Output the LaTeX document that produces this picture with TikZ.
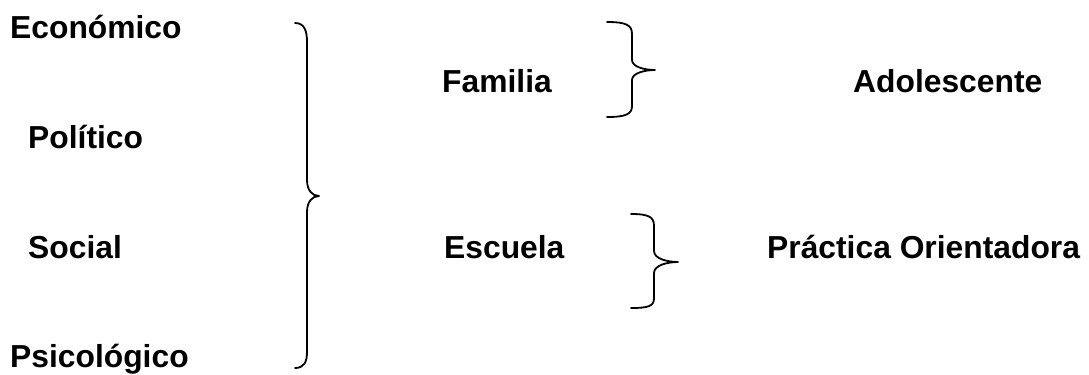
\documentclass[tikz,border=0pt]{standalone}
\usepackage{fontspec}
\setmainfont{Liberation Sans}
\begin{document}
\begin{tikzpicture}[x=1bp,y=-1bp,
  lbl/.style={anchor=base west,inner sep=0pt,font=\fontsize{31.8bp}{32bp}\selectfont\bfseries},
  brace/.style={line width=1.8bp,line cap=round,line join=round}]
\useasboundingbox (0,0) rectangle (1089,374);
\node[lbl] (eco) at (10,38) {Económico};
\node[lbl] (pol) at (28,148) {Político};
\node[lbl] (soc) at (28,258) {Social};
\node[lbl] (psi) at (10,367) {Psicológico};
\node[lbl] (fam) at (442,92) {Familia};
\node[lbl] (ado) at (853,92) {Adolescente};
\node[lbl] (esc) at (444,258) {Escuela};
\node[lbl] (pra) at (767,258) {Práctica Orientadora};
% big brace
\draw[brace] (295,23) .. controls (304,23) and (307,30) .. (307,42) -- (307,180)
  .. controls (307,190) and (312,196) .. (319,196)
  .. controls (312,196) and (307,202) .. (307,212) -- (307,352)
  .. controls (307,362) and (304,368) .. (295,368);
% brace familia
\draw[brace] (607,22) .. controls (626,22) and (632,25) .. (632,34) -- (632,60)
  .. controls (632,67) and (645,70) .. (655,70)
  .. controls (645,70) and (632,73) .. (632,80) -- (632,106)
  .. controls (632,114) and (626,117) .. (607,117);
% brace escuela
\draw[brace] (631,214) .. controls (649,214) and (654,217) .. (654,226) -- (654,251)
  .. controls (654,259) and (668,262) .. (678,262)
  .. controls (668,262) and (654,265) .. (654,273) -- (654,298)
  .. controls (654,306) and (649,308) .. (631,308);
\end{tikzpicture}
\end{document}
